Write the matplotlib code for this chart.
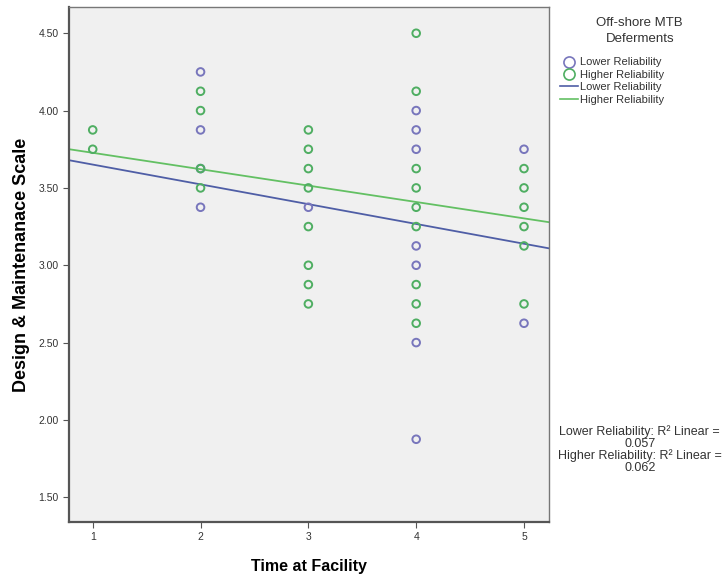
import matplotlib
matplotlib.use('Agg')
import numpy as np
from matplotlib import pyplot as plt
from matplotlib.lines import Line2D

plt.rc('font', family='Liberation Sans')

# observed scale scores per time-at-facility group
lower_x = [2, 2, 2, 2, 3, 4, 4, 4, 4, 4, 4, 4, 5, 5]
lower_y = [4.25, 3.875, 3.625, 3.375, 3.375, 4.0, 3.875, 3.75, 3.125, 3.0, 2.5, 1.875, 3.75, 2.625]

higher_x = [1, 1, 2, 2, 2, 2, 3, 3, 3, 3, 3, 3, 3, 3,
            4, 4, 4, 4, 4, 4, 4, 4, 4, 5, 5, 5, 5, 5, 5]
higher_y = [3.875, 3.75, 4.125, 4.0, 3.625, 3.5, 3.875, 3.75, 3.625, 3.5, 3.25, 3.0, 2.875, 2.75,
            4.5, 4.125, 3.625, 3.5, 3.375, 3.25, 2.875, 2.75, 2.625,
            3.625, 3.5, 3.375, 3.25, 3.125, 2.75]

# linear fit coefficients (intercept, slope) and R squared
lower_fit = (3.779, -0.128)
higher_fit = (3.833, -0.106)
lower_r2 = 0.057
higher_r2 = 0.062

x_ticks = [1, 2, 3, 4, 5]
y_ticks = [1.5, 2.0, 2.5, 3.0, 3.5, 4.0, 4.5]

c_low_pt = '#7876bc'
c_high_pt = '#4fae62'
c_low_ln = '#4f5ea6'
c_high_ln = '#63c063'
c_text = '#333333'

fig = plt.figure(figsize=(7.27, 5.8), dpi=100)
ax = fig.add_axes([0.0949, 0.100, 0.660, 0.888])
ax.set_facecolor('#f0f0f0')

ax.scatter(lower_x, lower_y, s=30, facecolors='none', edgecolors=c_low_pt, linewidths=1.4, zorder=3)
ax.scatter(higher_x, higher_y, s=30, facecolors='none', edgecolors=c_high_pt, linewidths=1.4, zorder=3)

xlim = (0.78, 5.23)
xs = np.array(xlim)
ax.plot(xs, lower_fit[0] + lower_fit[1] * xs, color=c_low_ln, lw=1.3, zorder=2)
ax.plot(xs, higher_fit[0] + higher_fit[1] * xs, color=c_high_ln, lw=1.3, zorder=2)

ax.set_xlim(*xlim)
ax.set_ylim(1.34, 4.67)
ax.set_xticks(x_ticks)
ax.set_xticklabels([str(v) for v in x_ticks])
ax.set_yticks(y_ticks)
ax.set_yticklabels(['%.2f' % v for v in y_ticks])
ax.tick_params(axis='both', labelsize=7.5, length=4, width=0.8, color='#555555', labelcolor=c_text)
for s in ax.spines.values():
    s.set_color('#777777')
    s.set_linewidth(1.0)
for side in ['left', 'bottom']:
    ax.spines[side].set_linewidth(1.6)
    ax.spines[side].set_color('#555555')

ax.set_xlabel('Time at Facility', fontsize=11.5, fontweight='bold', labelpad=12)
ax.set_ylabel('Design & Maintenanace Scale', fontsize=13, fontweight='bold', labelpad=6)

# legend title and entries
fig.text(0.880, 0.947, 'Off-shore MTB\nDeferments', ha='center', va='center', fontsize=9.5,
         color=c_text, linespacing=1.45)
handles = [
    Line2D([], [], marker='o', ls='none', mfc='none', mec=c_low_pt, ms=8, mew=1.2),
    Line2D([], [], marker='o', ls='none', mfc='none', mec=c_high_pt, ms=8, mew=1.2),
    Line2D([], [], color=c_low_ln, lw=1.2),
    Line2D([], [], color=c_high_ln, lw=1.2),
]
names = ['Lower Reliability', 'Higher Reliability', 'Lower Reliability', 'Higher Reliability']
leg = fig.legend(handles, names, loc='upper left', bbox_to_anchor=(0.770, 0.901),
                 frameon=False, fontsize=8, handlelength=1.6, handletextpad=0.25,
                 labelspacing=0.22, borderpad=0.0, borderaxespad=0.0)
for t in leg.get_texts():
    t.set_color(c_text)

fig.text(0.880, 0.225, 'Lower Reliability: R\u00b2 Linear =\n%.3f\nHigher Reliability: R\u00b2 Linear =\n%.3f'
         % (lower_r2, higher_r2), ha='center', va='center', fontsize=9, color=c_text,
         linespacing=0.95)

fig.savefig('out.png', dpi=100)
